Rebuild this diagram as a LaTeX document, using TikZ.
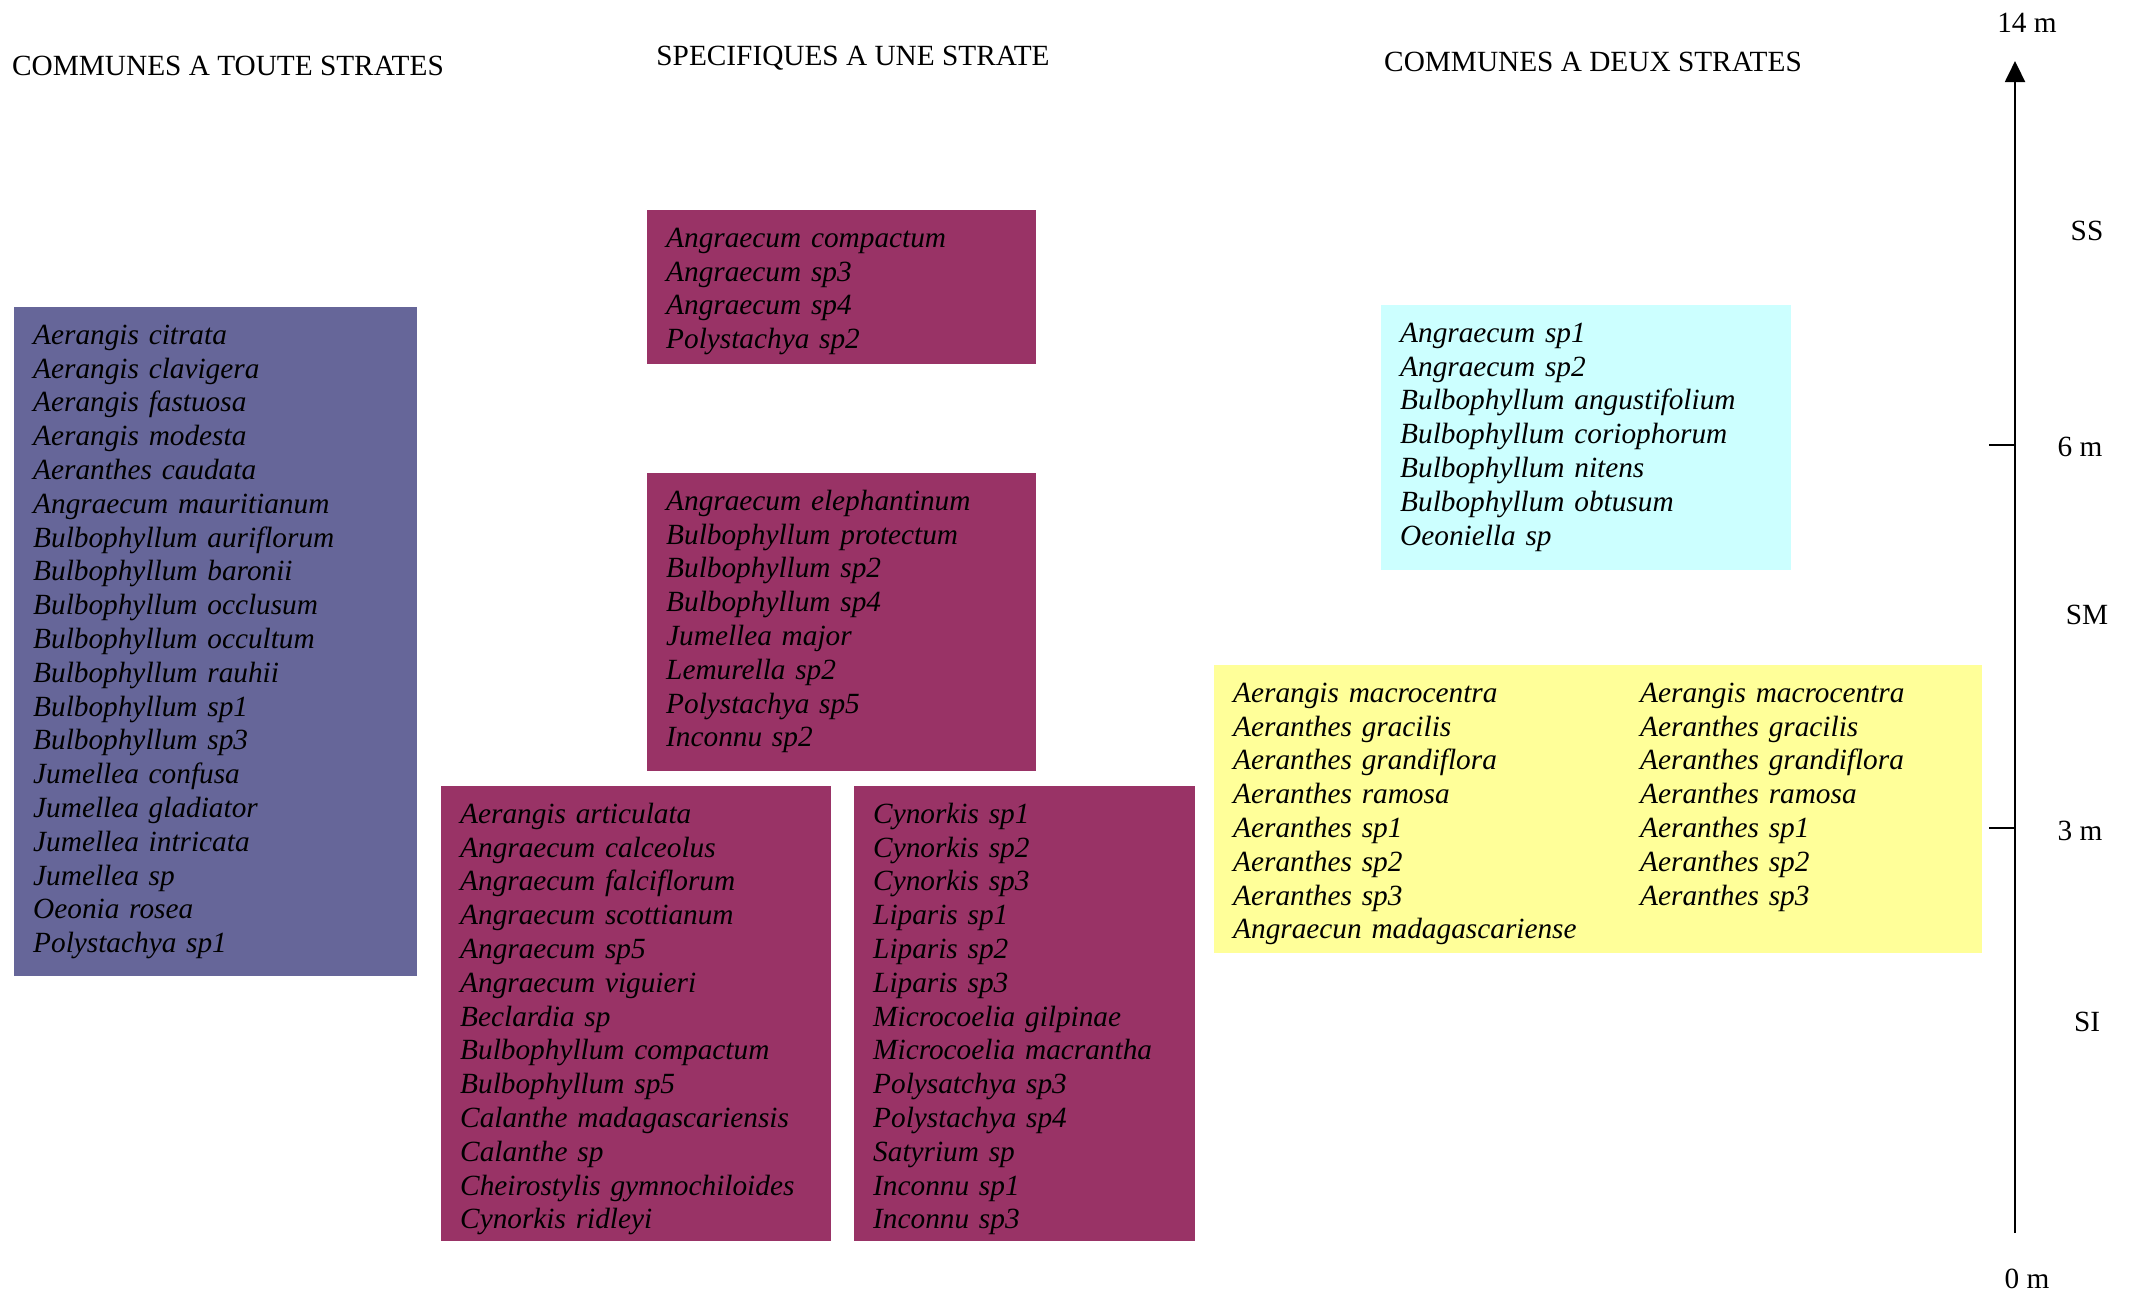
\documentclass[tikz,border=0pt]{standalone}
\usepackage{fontspec}
\setmainfont{Liberation Serif}
\usepackage{tikz}
\usetikzlibrary{positioning, arrows.meta}
\definecolor{strateBlue}{HTML}{666699}
\definecolor{stratePlumA}{HTML}{993366}
\definecolor{paleCyan}{HTML}{CCFFFF}
\definecolor{paleYellow}{HTML}{FFFF99}
\tikzset{
  box/.style     = {anchor=north west, align=left, inner xsep=19pt, inner ysep=0pt,
                    text height=37pt, font=\fontsize{29.3}{33.8}\selectfont\itshape},
  toutes/.style  = {fill=strateBlue},
  unique/.style  = {fill=stratePlumA},
  haut/.style    = {fill=paleCyan},
  bas/.style     = {fill=paleYellow},
  titre/.style   = {font=\fontsize{29.3}{33.8}\selectfont, inner sep=0pt},
  echelle/.style = {font=\fontsize{29.3}{33.8}\selectfont, inner sep=0pt},
  axe/.style     = {line width=2pt, -{Triangle[length=21pt, width=20pt]}},
  graduation/.style = {line width=2pt}
}
\newcommand{\deuxcol}[2]{\makebox[407pt][l]{#1}#2}

\begin{document}
\begin{tikzpicture}[x=1pt, y=-1pt]
  \useasboundingbox (0,0) rectangle (2132,1296);

  \node[titre] (titreToutes) at (228,66) {COMMUNES A TOUTE STRATES};
  \node[titre] (titreUne)    at (853,58) {SPECIFIQUES A UNE STRATE};
  \node[titre] (titreDeux)   at (1593,62) {COMMUNES A DEUX STRATES};

  \node[box, toutes, minimum width=403pt, text width=365pt, text depth=632pt] (toutes) at (14,307)
    {Aerangis citrata\\ Aerangis clavigera\\ Aerangis fastuosa\\ Aerangis modesta\\
     Aeranthes caudata\\ Angraecum mauritianum\\ Bulbophyllum auriflorum\\ Bulbophyllum baronii\\
     Bulbophyllum occlusum\\ Bulbophyllum occultum\\ Bulbophyllum rauhii\\ Bulbophyllum sp1\\
     Bulbophyllum sp3\\ Jumellea confusa\\ Jumellea gladiator\\ Jumellea intricata\\
     Jumellea sp\\ Oeonia rosea\\ Polystachya sp1};

  \node[box, unique, minimum width=389pt, text width=351pt, text depth=117pt] (uneSS) at (647,210)
    {Angraecum compactum\\ Angraecum sp3\\ Angraecum sp4\\ Polystachya sp2};

  \node[box, unique, minimum width=389pt, text width=351pt, text depth=261pt] (uneSM) at (647,473)
    {Angraecum elephantinum\\ Bulbophyllum protectum\\ Bulbophyllum sp2\\ Bulbophyllum sp4\\
     Jumellea major\\ Lemurella sp2\\ Polystachya sp5\\ Inconnu sp2};

  \node[box, unique, minimum width=390pt, text width=352pt, text depth=418pt] (uneSIa) at (441,786)
    {Aerangis articulata\\ Angraecum calceolus\\ Angraecum falciflorum\\ Angraecum scottianum\\
     Angraecum sp5\\ Angraecum viguieri\\ Beclardia sp\\ Bulbophyllum compactum\\
     Bulbophyllum sp5\\ Calanthe madagascariensis\\ Calanthe sp\\ Cheirostylis gymnochiloides\\
     Cynorkis ridleyi};

  \node[box, unique, minimum width=341pt, text width=303pt, text depth=418pt] (uneSIb) at (854,786)
    {Cynorkis sp1\\ Cynorkis sp2\\ Cynorkis sp3\\ Liparis sp1\\ Liparis sp2\\ Liparis sp3\\
     Microcoelia gilpinae\\ Microcoelia macrantha\\ Polysatchya sp3\\ Polystachya sp4\\
     Satyrium sp\\ Inconnu sp1\\ Inconnu sp3};

  \node[box, haut, minimum width=410pt, text width=372pt, text depth=228pt] (deuxHaut) at (1381,305)
    {Angraecum sp1\\ Angraecum sp2\\ Bulbophyllum angustifolium\\ Bulbophyllum coriophorum\\
     Bulbophyllum nitens\\ Bulbophyllum obtusum\\ Oeoniella sp};

  \node[box, bas, minimum width=768pt, text width=730pt, text depth=251pt] (deuxBas) at (1214,665)
    {\deuxcol{Aerangis macrocentra}{Aerangis macrocentra}\\
     \deuxcol{Aeranthes gracilis}{Aeranthes gracilis}\\
     \deuxcol{Aeranthes grandiflora}{Aeranthes grandiflora}\\
     \deuxcol{Aeranthes ramosa}{Aeranthes ramosa}\\
     \deuxcol{Aeranthes sp1}{Aeranthes sp1}\\
     \deuxcol{Aeranthes sp2}{Aeranthes sp2}\\
     \deuxcol{Aeranthes sp3}{Aeranthes sp3}\\
     Angraecun madagascariense};

  \coordinate (zero) at (2015,1233);
  \coordinate (sommet) at (2015,61);
  \coordinate (m6) at (2015,445);
  \coordinate (m6g) at (1989,445);
  \coordinate (m3) at (2015,828);
  \coordinate (m3g) at (1989,828);
  \draw[axe] (zero) -- (sommet);
  \draw[graduation] (m6) -- (m6g);
  \draw[graduation] (m3) -- (m3g);

  \node[echelle] (l14) at (2027,23) {14 m};
  \node[echelle] (lSS) at (2087,231) {SS};
  \node[echelle] (l6)  at (2080,447) {6 m};
  \node[echelle] (lSM) at (2087,615) {SM};
  \node[echelle] (l3)  at (2080,831) {3 m};
  \node[echelle] (lSI) at (2087,1022) {SI};
  \node[echelle] (l0)  at (2027,1279) {0 m};
\end{tikzpicture}
\end{document}
